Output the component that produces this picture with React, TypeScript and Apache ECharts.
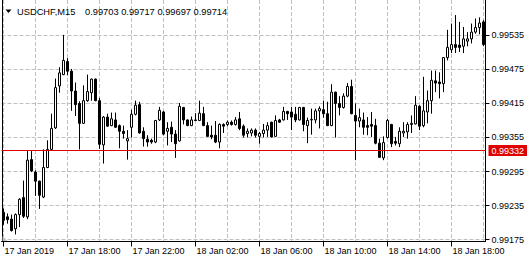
import React, { useEffect, useRef } from "react";
import * as echarts from "echarts";

// ---- data (USDCHF, M15, 17 Jan 2019 14:00 ... 18 Jan 2019 20:00) ----
const symbolTitle = "USDCHF,M15";
const headerQuote = "0.99703 0.99717 0.99697 0.99714";
const bidPrice = 0.99332;

const opens = [
  0.99223, 0.99215, 0.99211, 0.99194, 0.99219, 0.99249, 0.99215, 0.99316, 0.99294, 0.99278,
  0.9925, 0.99302, 0.99334, 0.99372, 0.99446, 0.99466, 0.99489, 0.99472, 0.99437, 0.99415,
  0.9938, 0.9942, 0.99434, 0.99458, 0.9942, 0.99342, 0.99391, 0.99376, 0.99386, 0.99376,
  0.99366, 0.99349, 0.99373, 0.99396, 0.99413, 0.99366, 0.99352, 0.9935, 0.99347, 0.99386,
  0.994, 0.99366, 0.99373, 0.99361, 0.99349, 0.99408, 0.99386, 0.99376, 0.99386, 0.99385,
  0.99397, 0.99376, 0.99359, 0.99359, 0.99347, 0.99378, 0.99378, 0.99382, 0.99378, 0.99388,
  0.99375, 0.99362, 0.99363, 0.99368, 0.99357, 0.99362, 0.99368, 0.99382, 0.99357, 0.99386,
  0.99386, 0.99401, 0.994, 0.99396, 0.99386, 0.99408, 0.99376, 0.99386, 0.99386, 0.99402,
  0.99404, 0.99397, 0.99376, 0.99435, 0.99415, 0.99408, 0.99428, 0.99445, 0.99394, 0.99384,
  0.99386, 0.99376, 0.99378, 0.99376, 0.99345, 0.99319, 0.99355, 0.99378, 0.99348, 0.99344,
  0.99363, 0.99365, 0.99378, 0.99379, 0.9941, 0.99376, 0.994, 0.9942, 0.99455, 0.99453,
  0.9945, 0.99496, 0.9951, 0.99519, 0.99518, 0.99516, 0.99525, 0.99529, 0.99541, 0.99549, 0.99559,
];
const highs = [
  0.9923, 0.99221, 0.99219, 0.99221, 0.99248, 0.99279, 0.99331, 0.99331, 0.99297, 0.99279,
  0.99334, 0.9935, 0.99397, 0.99459, 0.99479, 0.99536, 0.99495, 0.99476, 0.99452, 0.99419,
  0.99447, 0.99466, 0.99459, 0.99459, 0.99425, 0.99393, 0.99397, 0.99399, 0.99399, 0.99378,
  0.99376, 0.99368, 0.99404, 0.9942, 0.99418, 0.99373, 0.99359, 0.99353, 0.99386, 0.99409,
  0.99402, 0.99382, 0.99383, 0.99368, 0.99416, 0.99409, 0.99387, 0.99392, 0.99398, 0.9942,
  0.99409, 0.99382, 0.99376, 0.99384, 0.9938, 0.9938, 0.99385, 0.99385, 0.99391, 0.994,
  0.99378, 0.99371, 0.99371, 0.99371, 0.99365, 0.99379, 0.99382, 0.99383, 0.99394, 0.99388,
  0.99409, 0.99402, 0.99409, 0.99409, 0.99409, 0.99409, 0.9939, 0.99406, 0.99406, 0.9941,
  0.9942, 0.99418, 0.99449, 0.99436, 0.99428, 0.99433, 0.99451, 0.99457, 0.99415, 0.99406,
  0.99399, 0.99391, 0.994, 0.99388, 0.99353, 0.99357, 0.99388, 0.99379, 0.99356, 0.99373,
  0.99382, 0.99382, 0.99394, 0.99428, 0.99412, 0.99462, 0.99438, 0.99473, 0.99473, 0.9947,
  0.99497, 0.99545, 0.99556, 0.99571, 0.99559, 0.9955, 0.99541, 0.99556, 0.99565, 0.99567, 0.99562,
];
const lows = [
  0.99201, 0.99203, 0.99189, 0.99184, 0.99197, 0.99213, 0.99211, 0.99294, 0.99252, 0.99229,
  0.99248, 0.99301, 0.99333, 0.9937, 0.99434, 0.99465, 0.99465, 0.99402, 0.99393, 0.99334,
  0.99379, 0.99418, 0.9942, 0.99419, 0.99335, 0.99309, 0.99374, 0.99375, 0.99372, 0.99336,
  0.99353, 0.99316, 0.99355, 0.99394, 0.99362, 0.99339, 0.99339, 0.99344, 0.99345, 0.99384,
  0.99359, 0.99341, 0.99347, 0.99319, 0.99348, 0.99378, 0.99375, 0.99375, 0.99384, 0.99384,
  0.99375, 0.99356, 0.99352, 0.99345, 0.99336, 0.99363, 0.99375, 0.99376, 0.99376, 0.99368,
  0.99355, 0.99355, 0.99357, 0.99355, 0.99344, 0.99355, 0.99356, 0.99355, 0.99356, 0.99381,
  0.99385, 0.99386, 0.99368, 0.99382, 0.99385, 0.99366, 0.99345, 0.9936, 0.9938, 0.99371,
  0.9939, 0.99375, 0.99375, 0.99355, 0.99394, 0.99406, 0.99426, 0.99396, 0.99315, 0.99373,
  0.9936, 0.99359, 0.99356, 0.99343, 0.99319, 0.99315, 0.99353, 0.99338, 0.99341, 0.99338,
  0.99356, 0.99353, 0.99363, 0.99378, 0.99368, 0.99373, 0.9938, 0.99397, 0.99435, 0.99424,
  0.99435, 0.99491, 0.99504, 0.99504, 0.99506, 0.99504, 0.99516, 0.99521, 0.99538, 0.99537, 0.99516,
];
const closes = [
  0.99209, 0.9921, 0.99191, 0.99219, 0.99246, 0.99216, 0.99315, 0.99296, 0.99278, 0.99253,
  0.99302, 0.99334, 0.99371, 0.99443, 0.99469, 0.99491, 0.99472, 0.99437, 0.99413, 0.9938,
  0.9942, 0.99436, 0.99458, 0.9942, 0.99343, 0.99391, 0.99375, 0.99388, 0.99373, 0.99366,
  0.99362, 0.99353, 0.99396, 0.99412, 0.99363, 0.99353, 0.99347, 0.99347, 0.99385, 0.99403,
  0.99361, 0.99371, 0.99361, 0.99344, 0.9941, 0.99386, 0.99376, 0.99386, 0.99385, 0.99398,
  0.99376, 0.99357, 0.99356, 0.99347, 0.99378, 0.99375, 0.99382, 0.99378, 0.99386, 0.99371,
  0.99359, 0.99366, 0.99368, 0.99359, 0.99362, 0.99368, 0.99376, 0.99356, 0.99385, 0.99382,
  0.99401, 0.99397, 0.99391, 0.99386, 0.99408, 0.99378, 0.99385, 0.99387, 0.99402, 0.99406,
  0.99397, 0.99376, 0.99435, 0.99415, 0.99408, 0.99428, 0.99445, 0.99397, 0.99384, 0.9939,
  0.99373, 0.99373, 0.99375, 0.99345, 0.9932, 0.99346, 0.99385, 0.99344, 0.99345, 0.99366,
  0.99366, 0.99378, 0.9938, 0.99412, 0.99375, 0.99402, 0.9942, 0.99456, 0.99451, 0.9945,
  0.99496, 0.99514, 0.99519, 0.99514, 0.99514, 0.99529, 0.99529, 0.99541, 0.99549, 0.99557, 0.99519,
];

const yTickValues = [0.99175, 0.99235, 0.99295, 0.99355, 0.99415, 0.99475, 0.99535];
const xLabelTexts = [
  "17 Jan 2019",
  "17 Jan 18:00",
  "17 Jan 22:00",
  "18 Jan 02:00",
  "18 Jan 06:00",
  "18 Jan 10:00",
  "18 Jan 14:00",
  "18 Jan 18:00",
];
const xLabelBars = [0, 16, 32, 48, 64, 80, 96, 112];
const xGridBars = [0, 8, 16, 24, 32, 40, 48, 56, 64, 72, 80, 88, 96, 104, 112, 120];

const Y_MIN = 0.991715;
const Y_MAX = 0.995976;

const FONT = '"Liberation Sans", Arial, sans-serif';
const RED = "#e00000";
const GRID_COLOR = "#c0c0c0";

function pad(n: number) {
  return n < 10 ? "0" + n : String(n);
}
function barTimes(count: number): string[] {
  const out: string[] = [];
  for (let i = 0; i < count; i++) {
    const mins = 14 * 60 + i * 15;
    const day = 17 + Math.floor(mins / 1440);
    const m = mins % 1440;
    out.push(`2019.01.${day} ${pad(Math.floor(m / 60))}:${pad(m % 60)}`);
  }
  return out;
}

export default function App() {
  const ref = useRef<HTMLDivElement | null>(null);

  useEffect(() => {
    if (!ref.current) return;
    const chart = echarts.init(ref.current, undefined, { renderer: "svg" });
    const n = opens.length;
    const times = barTimes(n);
    const candleData = opens.map((o, i) => [o, closes[i], lows[i], highs[i]]);

    const baseXAxis = {
      type: "value",
      min: -0.5,
      max: n - 0.5,
    };

    const option: any = {
      animation: false,
      backgroundColor: "#ffffff",
      textStyle: { fontFamily: FONT },
      grid: {
        left: 1.5,
        top: 0,
        width: 484,
        height: 241.5,
        containLabel: false,
        outerBoundsMode: "none",
      },
      xAxis: [
        {
          type: "category",
          data: times,
          boundaryGap: true,
          axisLine: { show: false, onZero: false },
          axisTick: { show: false },
          axisLabel: { show: false },
          splitLine: { show: false },
        },
        {
          ...baseXAxis,
          position: "top",
          axisLine: { show: false, onZero: false },
          axisTick: { show: false, customValues: xGridBars },
          axisLabel: { show: false },
          splitLine: {
            show: true,
            lineStyle: { color: GRID_COLOR, width: 1, type: [4, 2] },
          },
        },
        {
          ...baseXAxis,
          position: "bottom",
          axisLine: { show: true, onZero: false, lineStyle: { color: "#000", width: 1 } },
          axisTick: {
            show: true,
            customValues: xLabelBars,
            length: 5,
            lineStyle: { color: "#000", width: 1 },
          },
          axisLabel: {
            show: true,
            customValues: xLabelBars,
            formatter: (v: number) => {
              const k = xLabelBars.indexOf(Math.round(v));
              return k >= 0 ? xLabelTexts[k] : "";
            },
            align: "left",
            margin: 5,
            padding: [0, 0, 0, 1],
            color: "#000",
            fontSize: 9,
            fontFamily: FONT,
          },
          splitLine: { show: false },
        },
      ],
      yAxis: [
        {
          type: "value",
          position: "right",
          min: Y_MIN,
          max: Y_MAX,
          axisLine: { show: true, onZero: false, lineStyle: { color: "#000", width: 1 } },
          axisTick: {
            show: true,
            customValues: yTickValues,
            length: 4,
            lineStyle: { color: "#000", width: 1 },
          },
          axisLabel: {
            show: true,
            customValues: yTickValues,
            formatter: (v: number) => v.toFixed(5),
            margin: 6,
            color: "#000",
            fontSize: 9,
            fontFamily: FONT,
          },
          splitLine: {
            show: true,
            lineStyle: { color: GRID_COLOR, width: 1, type: [4, 2] },
          },
        },
        {
          type: "value",
          position: "left",
          offset: -1,
          min: Y_MIN,
          max: Y_MAX,
          axisLine: { show: true, onZero: false, lineStyle: { color: "#000", width: 1 } },
          axisTick: { show: false },
          axisLabel: { show: false },
          splitLine: { show: false },
        },
      ],
      series: [
        {
          type: "candlestick",
          name: "USDCHF",
          xAxisIndex: 0,
          yAxisIndex: 0,
          data: candleData,
          barWidth: 2,
          itemStyle: {
            color: "#ffffff",
            color0: "#000000",
            borderColor: "#000000",
            borderColor0: "#000000",
            borderColorDoji: "#000000",
            borderWidth: 1,
          },
          markLine: {
            silent: true,
            symbol: "none",
            precision: 5,
            data: [{ name: "bid", yAxis: bidPrice }],
            lineStyle: { color: RED, width: 1, type: "solid" },
            label: {
              show: true,
              position: "end",
              distance: 3,
              formatter: bidPrice.toFixed(5),
              color: "#ffffff",
              backgroundColor: RED,
              padding: [1, 3, 1, 3],
              fontSize: 9,
              fontFamily: FONT,
            },
          },
        },
      ],
      graphic: [
        {
          type: "polygon",
          silent: true,
          z: 100,
          shape: { points: [[5.5, 9.5], [11.5, 9.5], [8.5, 13]] },
          style: { fill: "#000" },
        },
        {
          type: "text",
          silent: true,
          z: 100,
          x: 17,
          y: 11.5,
          style: {
            text: symbolTitle,
            fill: "#000",
            fontSize: 9.3,
            fontFamily: FONT,
            align: "left",
            verticalAlign: "middle",
          },
        },
        {
          type: "text",
          silent: true,
          z: 100,
          x: 85,
          y: 11.5,
          style: {
            text: headerQuote,
            fill: "#000",
            fontSize: 9.3,
            fontFamily: FONT,
            align: "left",
            verticalAlign: "middle",
          },
        },
        {
          type: "polygon",
          silent: true,
          z: 100,
          shape: { points: [[2.5, 236], [2.5, 241], [7.5, 241]] },
          style: { fill: "#c0c0c0" },
        },
      ],
    };

    chart.setOption(option);
    return () => {
      chart.dispose();
    };
  }, []);

  return (
    <div
      ref={ref}
      style={{ position: "fixed", left: 0, top: 0, width: 532, height: 262, background: "#fff" }}
    />
  );
}
